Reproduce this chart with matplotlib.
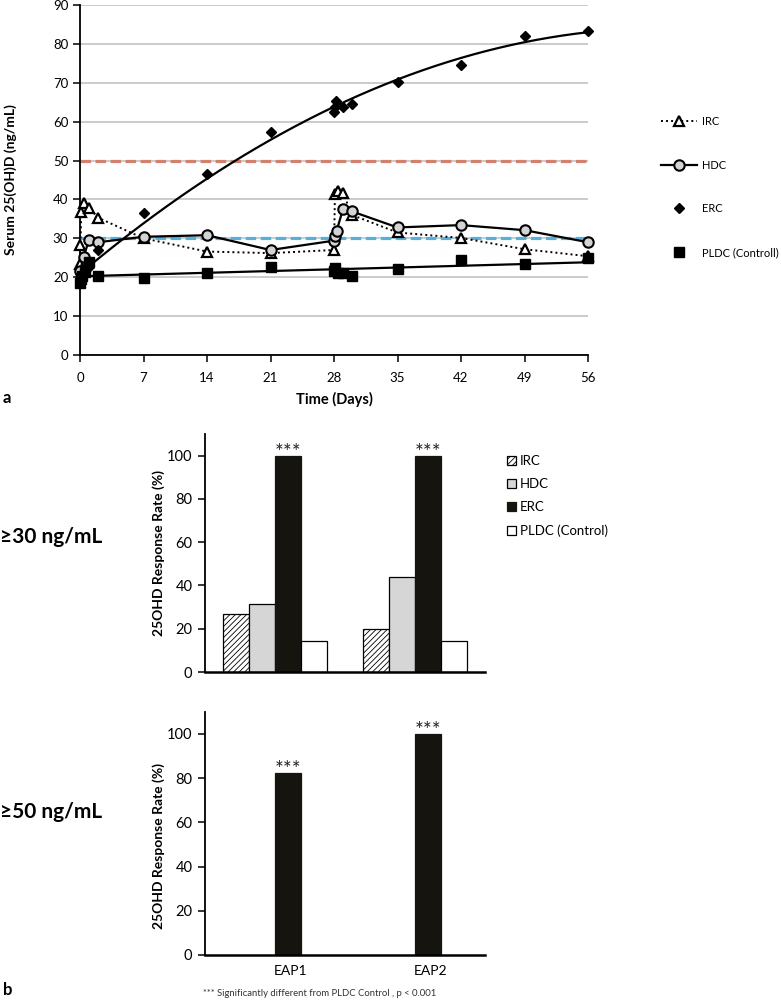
import numpy as np
import matplotlib
matplotlib.use("Agg")
import matplotlib.pyplot as plt
from matplotlib.patches import Patch

plt.rcParams['font.family'] = ['Lato', 'DejaVu Sans']
plt.rcParams['hatch.linewidth'] = 0.6

# ---------------- Panel a data ----------------
IRC_days = [0, 0.05, 0.15, 0.4, 1, 2, 7, 14, 21, 28, 28.1, 28.4, 29, 30, 35, 42, 49, 56]
IRC_vals = [23.5, 28.4, 36.8, 39.2, 37.8, 35.3, 30.0, 26.6, 26.2, 27.0, 41.5, 42.2, 41.6, 36.0, 31.5, 30.1, 27.2, 25.4]

HDC_days = [0, 0.4, 1, 2, 7, 14, 21, 28, 28.1, 28.3, 29, 30, 35, 42, 49, 56]
HDC_vals = [21.5, 25.3, 29.6, 29.0, 30.4, 30.8, 27.0, 29.4, 30.6, 32.0, 37.6, 36.9, 32.8, 33.4, 32.1, 29.0]

ERC_days = [0, 0.1, 0.25, 0.5, 1, 2, 7, 14, 21, 28, 28.1, 28.2, 29, 30, 35, 42, 49, 56]
ERC_vals = [18.8, 19.8, 20.6, 21.6, 22.6, 27.0, 36.4, 46.5, 57.3, 62.4, 63.7, 65.4, 63.7, 64.6, 70.3, 74.5, 82.1, 83.4]

PLDC_days = [0, 0.1, 0.25, 0.5, 1, 2, 7, 14, 21, 28, 28.1, 28.4, 29, 30, 35, 42, 49, 56]
PLDC_vals = [18.5, 19.5, 20.4, 21.3, 23.8, 20.3, 19.8, 21.0, 22.6, 21.5, 22.4, 21.0, 21.0, 20.4, 22.0, 24.4, 23.3, 25.0]

a_series = ['IRC', 'HDC', 'ERC', 'PLDC (Controll)']
ref_levels = [50, 30]
x_ticks_a = [0, 7, 14, 21, 28, 35, 42, 49, 56]

# ---------------- Panel b data ----------------
groups = ['EAP1', 'EAP2']
b_series = ['IRC', 'HDC', 'ERC', 'PLDC (Control)']
rate30 = {'IRC': [26.7, 20.0], 'HDC': [31.3, 43.8], 'ERC': [100.0, 100.0], 'PLDC (Control)': [14.3, 14.3]}
rate50_ERC = [82.5, 100.0]
sig_text = '***'

W, H = 781, 1002
fig = plt.figure(figsize=(W / 100, H / 100), dpi=100)

def fx(px):
    return px / W

def fy(py):
    return 1 - py / H

# ================= Panel a =================
ax = fig.add_axes([fx(80), fy(355), fx(588) - fx(80), fy(5) - fy(355)])
ax.set_xlim(0, 56)
ax.set_ylim(0, 90)
ax.set_yticks(range(0, 91, 10))
ax.set_xticks(x_ticks_a)
ax.yaxis.grid(True, color='#bdbdbd', lw=1.1, zorder=0)
ax.set_axisbelow(True)
for s in ['top', 'right']:
    ax.spines[s].set_visible(False)
ax.spines['left'].set_linewidth(1.3)
ax.spines['bottom'].set_linewidth(1.3)
ax.tick_params(axis='both', direction='out', length=5, width=1.1, labelsize=9.5, colors='black')
ax.tick_params(axis='x', pad=7)

ax.axhline(ref_levels[0], color='#d4806e', lw=2.3, ls=(0, (3.3, 1.4)), zorder=1.5)
ax.axhline(ref_levels[1], color='#56b0de', lw=2.3, ls=(0, (3.3, 1.4)), zorder=1.5)

irc, = ax.plot(IRC_days, IRC_vals, ls=(0, (1, 1.6)), color='black', lw=1.4,
               marker='^', ms=7, mfc='white', mec='black', mew=1.6, clip_on=False, zorder=3)
hdc, = ax.plot(HDC_days, HDC_vals, ls='-', color='black', lw=1.6,
               marker='o', ms=7.5, mfc='#d3d3d3', mec='black', mew=1.5, clip_on=False, zorder=3.2)

# trend lines computed from data
xx = np.linspace(0, 56, 200)
erc_fit = np.polyfit(ERC_days, ERC_vals, 2)
pldc_fit = np.polyfit(PLDC_days, PLDC_vals, 1)
ax.plot(xx, np.polyval(erc_fit, xx), color='black', lw=1.6, zorder=3.1)
ax.plot(xx, np.polyval(pldc_fit, xx), color='black', lw=1.6, zorder=3.1)

erc, = ax.plot(ERC_days, ERC_vals, ls='none', marker='D', ms=5.2, color='black', clip_on=False, zorder=3.4)
pldc, = ax.plot(PLDC_days, PLDC_vals, ls='none', marker='s', ms=6.5, color='black', clip_on=False, zorder=3.3)

ax.set_ylabel('Serum 25(OH)D (ng/mL)', fontsize=10, fontweight='bold')
ax.yaxis.set_label_coords((17 - 80) / 508, 0.5)
ax.set_xlabel('Time (Days)', fontsize=10.5, fontweight='bold', labelpad=6)

fig.legend([irc, hdc, erc, pldc], a_series, loc='center left',
           bbox_to_anchor=(fx(661), fy(187)), frameon=False, fontsize=8.0,
           handlelength=3.2, handletextpad=0.45, labelspacing=2.95, borderpad=0,
           borderaxespad=0, numpoints=1)

fig.text(fx(3), fy(398), 'a', fontsize=12, fontweight='bold', ha='left', va='center')

# ================= Panel b =================
width = 0.184
offsets = [-1.5 * width, -0.5 * width, 0.5 * width, 1.5 * width]
x = np.arange(len(groups))
styles = {
    'IRC': dict(facecolor='white', edgecolor='black', hatch='//////'),
    'HDC': dict(facecolor='#d6d6d6', edgecolor='black'),
    'ERC': dict(facecolor='#15140f', edgecolor='#15140f'),
    'PLDC (Control)': dict(facecolor='white', edgecolor='black'),
}

def style_bar_axes(a):
    a.set_xlim(-0.5, 1.5)
    a.set_ylim(0, 110)
    a.set_yticks(range(0, 101, 20))
    for s in ['top', 'right']:
        a.spines[s].set_visible(False)
    a.spines['left'].set_linewidth(1.3)
    a.spines['bottom'].set_linewidth(1.8)
    a.tick_params(axis='y', direction='out', length=5, width=1.1, labelsize=10.5, pad=4)

def stars(a, xs, vals):
    for xi, v in zip(xs, vals):
        a.text(xi, v - 1.5, sig_text, ha='center', va='baseline', fontsize=15, color='#222222')

b1 = fig.add_axes([fx(205), fy(672), fx(485) - fx(205), fy(434) - fy(672)])
style_bar_axes(b1)
for i, name in enumerate(b_series):
    b1.bar(x + offsets[i], rate30[name], width, linewidth=0.9, label=name, **styles[name])
stars(b1, x + offsets[2], rate30['ERC'])
b1.set_xticks([])
b1.set_ylabel('25OHD Response Rate (%)', fontsize=10, fontweight='bold')
b1.yaxis.set_label_coords((165 - 205) / 280, 0.5)

fig.legend([Patch(**styles[n], linewidth=0.9) for n in b_series], b_series, loc='upper left',
           bbox_to_anchor=(fx(507), fy(455)), frameon=False, fontsize=9.5,
           handlelength=0.65, handleheight=0.65, handletextpad=0.3, labelspacing=0.85,
           borderpad=0, borderaxespad=0)

b2 = fig.add_axes([fx(205), fy(955), fx(485) - fx(205), fy(711.7) - fy(955)])
style_bar_axes(b2)
b2.bar(x + offsets[2], rate50_ERC, width, linewidth=0.9, **styles['ERC'])
stars(b2, x + offsets[2], rate50_ERC)
b2.set_xticks(x + offsets[2] + 0.02)
b2.set_xticklabels(groups, fontsize=10)
b2.tick_params(axis='x', length=0, pad=7)
b2.set_ylabel('25OHD Response Rate (%)', fontsize=10, fontweight='bold')
b2.yaxis.set_label_coords((165 - 205) / 280, 0.45)

fig.text(0, fy(537), '≥30 ng/mL', fontsize=15, fontweight='bold', ha='left', va='center')
fig.text(0, fy(812), '≥50 ng/mL', fontsize=15, fontweight='bold', ha='left', va='center')
fig.text(fx(3), fy(990), 'b', fontsize=12, fontweight='bold', ha='left', va='center')
fig.text(fx(203), fy(993), '*** Significantly different from PLDC Control , p < 0.001',
         fontsize=6.8, color='#333333', ha='left', va='center')

fig.savefig('out.png', dpi=100)
